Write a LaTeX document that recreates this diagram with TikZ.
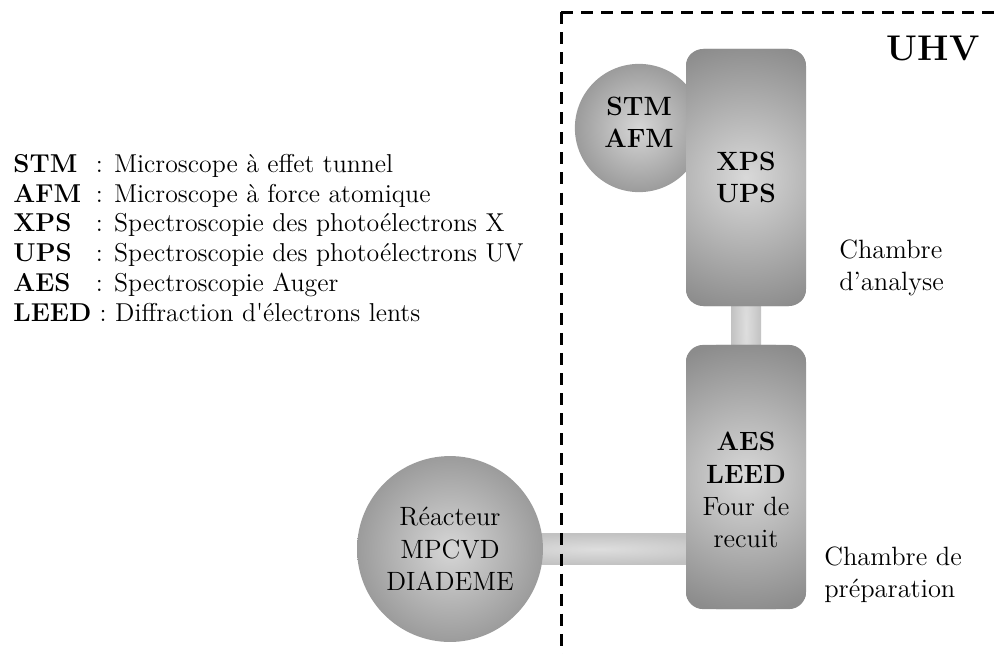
\documentclass[tikz,border=0pt]{standalone}
\usepackage{fontspec}
\usepackage{tikz}
\usetikzlibrary{calc,backgrounds}
\newcommand{\legabbr}[1]{\makebox[1.40cm][l]{\textbf{#1}}}

\begin{document}
\begin{tikzpicture}[
    x=0.017cm, y=-0.017cm,
    every node/.style={font=\fontsize{12.8}{15.6}\selectfont},
    chamber/.style={rectangle, rounded corners=0.29cm, fill=gray!90,
                    path picture={\shade[inner color=gray!30, outer color=gray!90]
                      (path picture bounding box.center) circle[radius=2.3cm];},
                    minimum width=2.04cm, align=center, inner sep=0},
    bulb/.style={circle, shade, inner color=gray!32, outer color=gray!78,
                 align=center, inner sep=0},
    tube/.style={shade, inner color=gray!26, outer color=gray!48},
    uhvframe/.style={line width=1.45pt, dash pattern=on 5.8pt off 3.9pt}
]
\useasboundingbox (0,0) rectangle (998,653);
\clip (0,0) rectangle (998,653);

\coordinate (uhvcorner) at (561,12);
\coordinate (uhvbot) at (561,670);
\coordinate (uhvend) at (1010,12);
\draw[uhvframe] (uhvcorner) -- (uhvbot);
\draw[uhvframe] (uhvcorner) -- (uhvend);

\node[bulb, minimum size=2.18cm] (stm) at (639,128) {};
\node[align=center] (stmtext) at ($(stm.center)+(0,-6)$) {\textbf{STM}\\\textbf{AFM}};
\node[chamber, minimum height=4.37cm] (anal) at (746,177.5) {\textbf{XPS}\\\textbf{UPS}};
\node[chamber, minimum height=4.49cm] (prep) at (746,477) {};
\node[align=center] (preptext) at ($(prep.center)+(0,13)$) {\textbf{AES}\\\textbf{LEED}\\Four de\\recuit};
\node[bulb, minimum size=3.16cm] (react) at (450,549) {Réacteur\\MPCVD\\DIADEME};

\begin{scope}[on background layer]
\shade[tube] ($(anal.center)+(-15,0)$) rectangle ($(prep.center)+(15,0)$);
\shade[tube] ($(react.center)+(0,-15.5)$) rectangle ($(prep.center |- react.center)+(0,15.5)$);
\end{scope}

\node[font=\LARGE\bfseries] (uhv) at (933,48) {UHV};
\node[anchor=west, align=left] (analtxt) at (832,268) {Chambre\\d’analyse};
\node[anchor=west, align=left] (preptxt) at (817,575) {Chambre de\\préparation};

\node[anchor=west, align=left, inner sep=0, font=\fontsize{12.5}{14.5}\selectfont] (legend) at (13,238) {%
\legabbr{STM}: Microscope à effet tunnel\\
\legabbr{AFM}: Microscope à force atomique\\
\legabbr{XPS}: Spectroscopie des photoélectrons X\\
\legabbr{UPS}: Spectroscopie des photoélectrons UV\\
\legabbr{AES}: Spectroscopie Auger\\
\textbf{LEED} : Diffraction d\textquotesingle électrons lents};
\end{tikzpicture}
\end{document}
